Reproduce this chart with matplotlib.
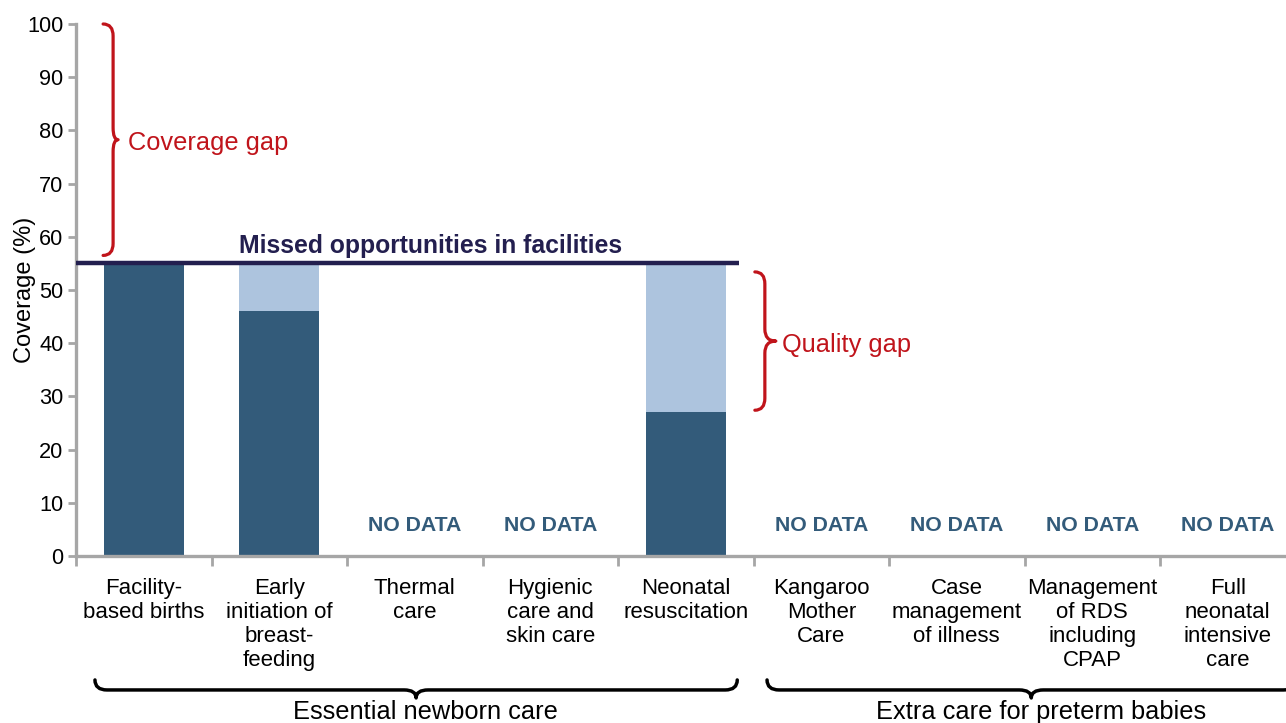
import numpy as np
import matplotlib
matplotlib.use("Agg")
import matplotlib.pyplot as plt
from matplotlib.path import Path
from matplotlib.patches import PathPatch
from matplotlib.transforms import blended_transform_factory

plt.rcParams['font.family'] = ['Liberation Sans', 'DejaVu Sans']

# ---------------- data ----------------
categories = [
    "Facility-\nbased births",
    "Early\ninitiation of\nbreast-\nfeeding",
    "Thermal\ncare",
    "Hygienic\ncare and\nskin care",
    "Neonatal\nresuscitation",
    "Kangaroo\nMother\nCare",
    "Case\nmanagement\nof illness",
    "Management\nof RDS\nincluding\nCPAP",
    "Full\nneonatal\nintensive\ncare",
]
# quality-adjusted coverage (dark) and coverage of contact in facilities (total)
quality_coverage = [55, 46, None, None, 27, None, None, None, None]
contact_coverage = [55, 55, None, None, 55, None, None, None, None]
facility_level = 55
groups = ["Essential newborn care", "Extra care for preterm babies"]

DARK = "#335b7a"
LIGHT = "#adc4de"
NAVY = "#231f4f"
RED = "#c0141b"
GREY = "#a6a6a6"

W, H = 1286, 723
fig = plt.figure(figsize=(W / 100, H / 100), dpi=100)
ax = fig.add_axes([76 / W, 167 / H, 1219.5 / W, 532 / H])

x = np.arange(len(categories))
bw = 0.59
for i, (q, c) in enumerate(zip(quality_coverage, contact_coverage)):
    if q is None:
        ax.text(i, 5.8, "NO DATA", ha="center", va="center", color=DARK,
                fontsize=15.3, fontweight="bold")
        continue
    ax.bar(i, q, width=bw, color=DARK, zorder=2)
    if c > q:
        ax.bar(i, c - q, bottom=q, width=bw, color=LIGHT, zorder=2)

ax.set_xlim(-0.5, len(categories) - 0.5)
ax.set_ylim(0, 100)
ax.set_yticks(np.arange(0, 101, 10))
ax.set_xticks(x)
ax.set_xticklabels(categories, fontsize=16, linespacing=1.18, va="top")
ax.set_xticks(np.arange(-0.5, len(categories), 1), minor=True)
ax.tick_params(axis="x", which="major", length=0, pad=16)
ax.tick_params(axis="x", which="minor", length=7, width=2, color=GREY)
ax.tick_params(axis="y", length=6, width=2, color=GREY, labelsize=15.7, pad=3)
for s in ["top", "right"]:
    ax.spines[s].set_visible(False)
for s in ["left", "bottom"]:
    ax.spines[s].set_color(GREY)
    ax.spines[s].set_linewidth(2.4)
ax.set_ylabel("Coverage (%)", fontsize=17, va="center")
ax.yaxis.set_label_coords(-0.042, 0.5)

# missed opportunities line
ax.plot([-0.5, 4.39], [facility_level, facility_level], color=NAVY, lw=3.2,
        zorder=3, solid_capstyle="butt", clip_on=False)
ax.text(2.12, facility_level + 1.0, "Missed opportunities in facilities",
        ha="center", va="bottom", color=NAVY, fontsize=17.8, fontweight="bold")

fig.canvas.draw()


def brace(A, B, h1, h2, r, color, lw, side=1):
    """Curly brace in pixel space from A to B; tip offset h1+h2 toward side."""
    A = np.asarray(A, float)
    B = np.asarray(B, float)
    L = np.linalg.norm(B - A)
    u = (B - A) / L
    n = np.array([-u[1], u[0]]) * side

    def P(s, t):
        return A + u * s + n * t

    verts = [P(0, 0), P(0, h1), P(r, h1),
             P(L / 2 - r, h1),
             P(L / 2, h1), P(L / 2, h1 + h2),
             P(L / 2, h1), P(L / 2 + r, h1),
             P(L - r, h1),
             P(L, h1), P(L, 0)]
    codes = [Path.MOVETO, Path.CURVE3, Path.CURVE3,
             Path.LINETO,
             Path.CURVE3, Path.CURVE3,
             Path.CURVE3, Path.CURVE3,
             Path.LINETO,
             Path.CURVE3, Path.CURVE3]
    inv = fig.transFigure.inverted()
    v = inv.transform(np.array(verts))
    patch = PathPatch(Path(v, codes), fill=False, edgecolor=color, lw=lw,
                      transform=fig.transFigure, clip_on=False,
                      capstyle="round", joinstyle="round")
    fig.add_artist(patch)


td = ax.transData

# Coverage gap brace (vertical, pointing right)
A = td.transform((-0.30, 100))
B = td.transform((-0.30, facility_level + 1.5))
brace(A, B, 10, 5, 12, RED, 2.3, side=1)
ax.text(-0.115, 77.7, "Coverage gap", color=RED, fontsize=18.3, va="center", ha="left")

# Quality gap brace
A = td.transform((4.51, 53.4))
B = td.transform((4.51, 27.4))
brace(A, B, 10, 11, 12, RED, 2.3, side=1)
ax.text(4.71, 39.7, "Quality gap", color=RED, fontsize=18.3, va="center", ha="left")

# group braces at bottom
bt = blended_transform_factory(ax.transData, ax.transAxes)
ends = [(-0.36, 4.38), (4.6, 8.5)]
for (g, (x0, x1)) in zip(groups, ends):
    A = bt.transform((x0, -0.233))
    B = bt.transform((x1, -0.233))
    brace(A, B, 10, 8, 12, "black", 2.5, side=-1)
    ax.text((x0 + x1) / 2 + 0.07, -0.293, g, transform=bt, ha="center",
            va="center", fontsize=18.3, clip_on=False)

fig.savefig("out.png", dpi=100)
